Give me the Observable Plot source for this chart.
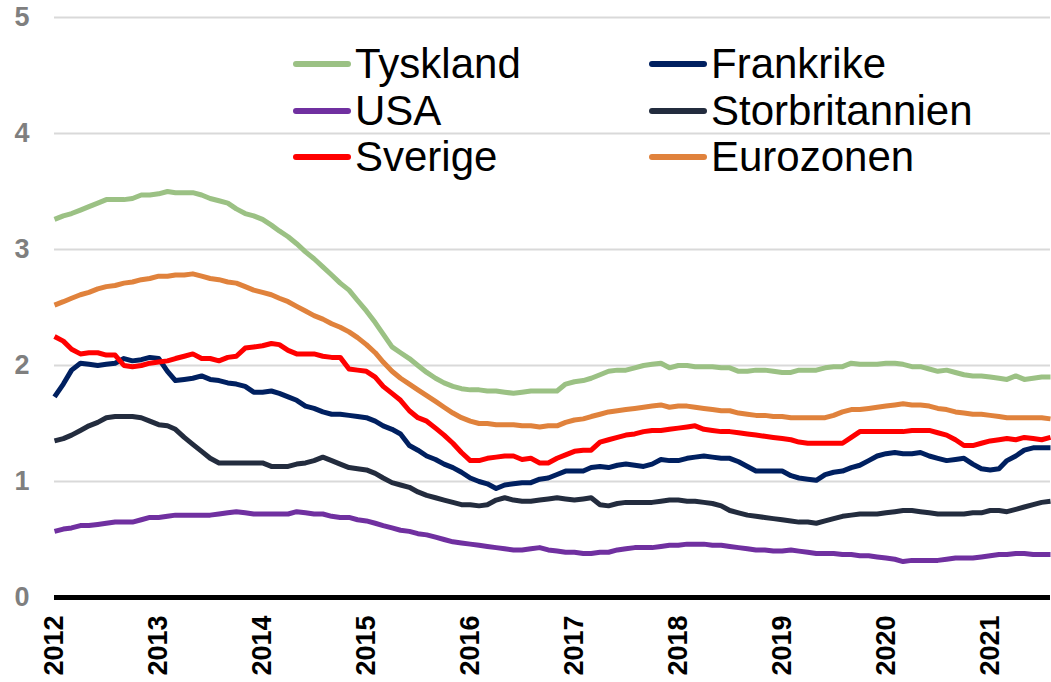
<!DOCTYPE html>
<html>
<head>
<meta charset="utf-8">
<script src="https://cdn.jsdelivr.net/npm/d3@7"></script>
<script src="https://cdn.jsdelivr.net/npm/@observablehq/plot@0.6"></script>
<style>
  html, body { margin: 0; padding: 0; background: #fff; }
  #wrap { position: relative; width: 1051px; height: 682px; overflow: hidden; }
  #legend { position: absolute; left: 293px; top: 41px; display: grid; grid-template-columns: 356px 340px;
            font-family: "Liberation Sans", Arial, sans-serif; font-size: 42px; line-height: 46.5px; color: #000; }
  .item { display: flex; align-items: center; white-space: nowrap; }
  .sw { width: 58px; height: 6px; border-radius: 3px; margin-right: 4px; flex: none; }
</style>
</head>
<body>
<div id="wrap"><div id="chart"></div><div id="legend"></div></div>
<script>
const startMonth = "2012-01-01";
const seriesNames = ["Tyskland", "Frankrike", "USA", "Storbritannien", "Sverige", "Eurozonen"];
const seriesColors = ["#9bc184", "#002060", "#7030a0", "#232c3e", "#ff0000", "#e0823c"];
const yearTicks = [2012, 2013, 2014, 2015, 2016, 2017, 2018, 2019, 2020, 2021];
const yTicks = [0, 1, 2, 3, 4, 5];

const tyskland = [
  3.26,3.29,3.31,3.34,3.37,3.40,3.43,3.43,3.43,3.44,3.47,3.47,
  3.48,3.50,3.49,3.49,3.49,3.47,3.44,3.42,3.40,3.35,3.31,3.29,
  3.26,3.21,3.16,3.11,3.05,2.98,2.92,2.85,2.78,2.71,2.65,2.56,
  2.47,2.37,2.27,2.16,2.11,2.06,2.00,1.94,1.89,1.85,1.82,1.80,
  1.79,1.79,1.78,1.78,1.77,1.76,1.77,1.78,1.78,1.78,1.78,1.84,
  1.86,1.87,1.89,1.92,1.95,1.96,1.96,1.98,2.00,2.01,2.02,1.98,
  2.00,2.00,1.99,1.99,1.99,1.98,1.98,1.95,1.95,1.96,1.96,1.95,
  1.94,1.94,1.96,1.96,1.96,1.98,1.99,1.99,2.02,2.01,2.01,2.01,
  2.02,2.02,2.01,1.99,1.99,1.97,1.95,1.96,1.94,1.92,1.91,1.91,
  1.90,1.89,1.88,1.91,1.88,1.89,1.90,1.90
];
const frankrike = [
  1.73,1.84,1.96,2.02,2.01,2.00,2.01,2.02,2.06,2.04,2.05,2.07,
  2.06,1.95,1.87,1.88,1.89,1.91,1.88,1.87,1.85,1.84,1.82,1.77,
  1.77,1.78,1.76,1.73,1.70,1.65,1.63,1.60,1.58,1.58,1.57,1.56,
  1.55,1.52,1.48,1.45,1.41,1.31,1.27,1.22,1.19,1.15,1.12,1.08,
  1.03,1.00,0.98,0.94,0.97,0.98,0.99,0.99,1.02,1.03,1.06,1.09,
  1.09,1.09,1.12,1.13,1.12,1.14,1.15,1.14,1.13,1.15,1.19,1.18,
  1.18,1.20,1.21,1.22,1.21,1.20,1.20,1.17,1.13,1.09,1.09,1.09,
  1.09,1.05,1.03,1.02,1.01,1.06,1.08,1.09,1.12,1.14,1.18,1.22,
  1.24,1.25,1.24,1.24,1.25,1.22,1.20,1.18,1.19,1.20,1.15,1.11,
  1.10,1.11,1.18,1.22,1.27,1.29,1.29,1.29
];
const usa = [
  0.57,0.59,0.60,0.62,0.62,0.63,0.64,0.65,0.65,0.65,0.67,0.69,
  0.69,0.70,0.71,0.71,0.71,0.71,0.71,0.72,0.73,0.74,0.73,0.72,
  0.72,0.72,0.72,0.72,0.74,0.73,0.72,0.72,0.70,0.69,0.69,0.67,
  0.66,0.64,0.62,0.60,0.58,0.57,0.55,0.54,0.52,0.50,0.48,0.47,
  0.46,0.45,0.44,0.43,0.42,0.41,0.41,0.42,0.43,0.41,0.40,0.39,
  0.39,0.38,0.38,0.39,0.39,0.41,0.42,0.43,0.43,0.43,0.44,0.45,
  0.45,0.46,0.46,0.46,0.45,0.45,0.44,0.43,0.42,0.41,0.41,0.40,
  0.40,0.41,0.40,0.39,0.38,0.38,0.38,0.37,0.37,0.36,0.36,0.35,
  0.34,0.33,0.31,0.32,0.32,0.32,0.32,0.33,0.34,0.34,0.34,0.35,
  0.36,0.37,0.37,0.38,0.38,0.37,0.37,0.37
];
const storbritannien = [
  1.35,1.37,1.40,1.44,1.48,1.51,1.55,1.56,1.56,1.56,1.55,1.52,
  1.49,1.48,1.45,1.38,1.32,1.26,1.20,1.16,1.16,1.16,1.16,1.16,
  1.16,1.13,1.13,1.13,1.15,1.16,1.18,1.21,1.18,1.15,1.12,1.11,
  1.10,1.07,1.03,0.99,0.97,0.95,0.91,0.88,0.86,0.84,0.82,0.80,
  0.80,0.79,0.80,0.84,0.86,0.84,0.83,0.83,0.84,0.85,0.86,0.85,
  0.84,0.85,0.86,0.80,0.79,0.81,0.82,0.82,0.82,0.82,0.83,0.84,
  0.84,0.83,0.83,0.82,0.81,0.79,0.75,0.73,0.71,0.70,0.69,0.68,
  0.67,0.66,0.65,0.65,0.64,0.66,0.68,0.70,0.71,0.72,0.72,0.72,
  0.73,0.74,0.75,0.75,0.74,0.73,0.72,0.72,0.72,0.72,0.73,0.73,
  0.75,0.75,0.74,0.76,0.78,0.80,0.82,0.83
];
const sverige = [
  2.25,2.21,2.14,2.10,2.11,2.11,2.09,2.09,2.00,1.99,2.00,2.02,
  2.03,2.04,2.06,2.08,2.10,2.06,2.06,2.04,2.07,2.08,2.15,2.16,
  2.17,2.19,2.18,2.13,2.10,2.10,2.10,2.08,2.07,2.07,1.97,1.96,
  1.95,1.90,1.82,1.76,1.70,1.61,1.55,1.52,1.46,1.40,1.33,1.25,
  1.18,1.18,1.20,1.21,1.22,1.22,1.19,1.20,1.16,1.16,1.20,1.23,
  1.26,1.27,1.27,1.34,1.36,1.38,1.40,1.41,1.43,1.44,1.44,1.45,
  1.46,1.47,1.48,1.45,1.44,1.43,1.43,1.42,1.41,1.40,1.39,1.38,
  1.37,1.36,1.34,1.33,1.33,1.33,1.33,1.33,1.38,1.43,1.43,1.43,
  1.43,1.43,1.43,1.44,1.44,1.44,1.42,1.40,1.36,1.31,1.31,1.33,
  1.35,1.36,1.37,1.36,1.38,1.37,1.36,1.38
];
const eurozonen = [
  2.52,2.55,2.58,2.61,2.63,2.66,2.68,2.69,2.71,2.72,2.74,2.75,
  2.77,2.77,2.78,2.78,2.79,2.77,2.75,2.74,2.72,2.71,2.68,2.65,
  2.63,2.61,2.58,2.55,2.51,2.47,2.43,2.40,2.36,2.33,2.29,2.24,
  2.18,2.11,2.03,1.95,1.89,1.84,1.79,1.74,1.69,1.64,1.59,1.55,
  1.52,1.50,1.50,1.49,1.49,1.49,1.48,1.48,1.47,1.48,1.48,1.51,
  1.53,1.54,1.56,1.58,1.60,1.61,1.62,1.63,1.64,1.65,1.66,1.64,
  1.65,1.65,1.64,1.63,1.62,1.61,1.61,1.59,1.58,1.57,1.57,1.56,
  1.56,1.55,1.55,1.55,1.55,1.55,1.57,1.60,1.62,1.62,1.63,1.64,
  1.65,1.66,1.67,1.66,1.66,1.65,1.63,1.62,1.60,1.59,1.58,1.58,
  1.57,1.56,1.55,1.55,1.55,1.55,1.55,1.54
];

const seriesValues = [tyskland, frankrike, usa, storbritannien, sverige, eurozonen];
const start = new Date(startMonth);
const rows = [];
seriesNames.forEach((name, i) => {
  seriesValues[i].forEach((v, m) => rows.push({series: name, date: d3.utcMonth.offset(start, m), value: v}));
});
const lastDate = d3.utcMonth.offset(start, tyskland.length - 1);

const chart = Plot.plot({
  width: 1051,
  height: 682,
  marginLeft: 54,
  marginRight: 1,
  marginTop: 17,
  marginBottom: 85,
  style: {fontFamily: "'Liberation Sans', Arial, sans-serif", background: "#fff", overflow: "visible"},
  x: {type: "utc", domain: [start, lastDate], label: null},
  y: {domain: [0, 5], label: null},
  color: {domain: seriesNames, range: seriesColors},
  marks: [
    Plot.gridY(yTicks.filter(d => d > 0), {stroke: "#d9d9d9", strokeOpacity: 1, strokeWidth: 2}),
    Plot.axisY(yTicks, {tickSize: 0, tickPadding: 25, fontSize: 27, fontWeight: "bold", fill: "#7f7f7f", label: null, tickFormat: d => String(d)}),
    Plot.axisX(yearTicks.map(y => new Date(Date.UTC(y, 0, 1))), {
      tickSize: 0, tickPadding: 18, tickRotate: -90, tickFormat: d3.utcFormat("%Y"),
      fontSize: 27, fontWeight: "bold", fill: "#000", label: null
    }),
    Plot.line(rows, {x: "date", y: "value", z: "series", stroke: "series", strokeWidth: 5, strokeLinejoin: "round", strokeLinecap: "butt"}),
    Plot.ruleY([0], {stroke: "#000", strokeWidth: 5})
  ]
});
document.getElementById("chart").appendChild(chart);

const legend = document.getElementById("legend");
seriesNames.forEach((name, i) => {
  const it = document.createElement("div");
  it.className = "item";
  const sw = document.createElement("span");
  sw.className = "sw";
  sw.style.background = seriesColors[i];
  const tx = document.createElement("span");
  tx.textContent = name;
  it.appendChild(sw); it.appendChild(tx);
  legend.appendChild(it);
});
</script>
</body>
</html>
